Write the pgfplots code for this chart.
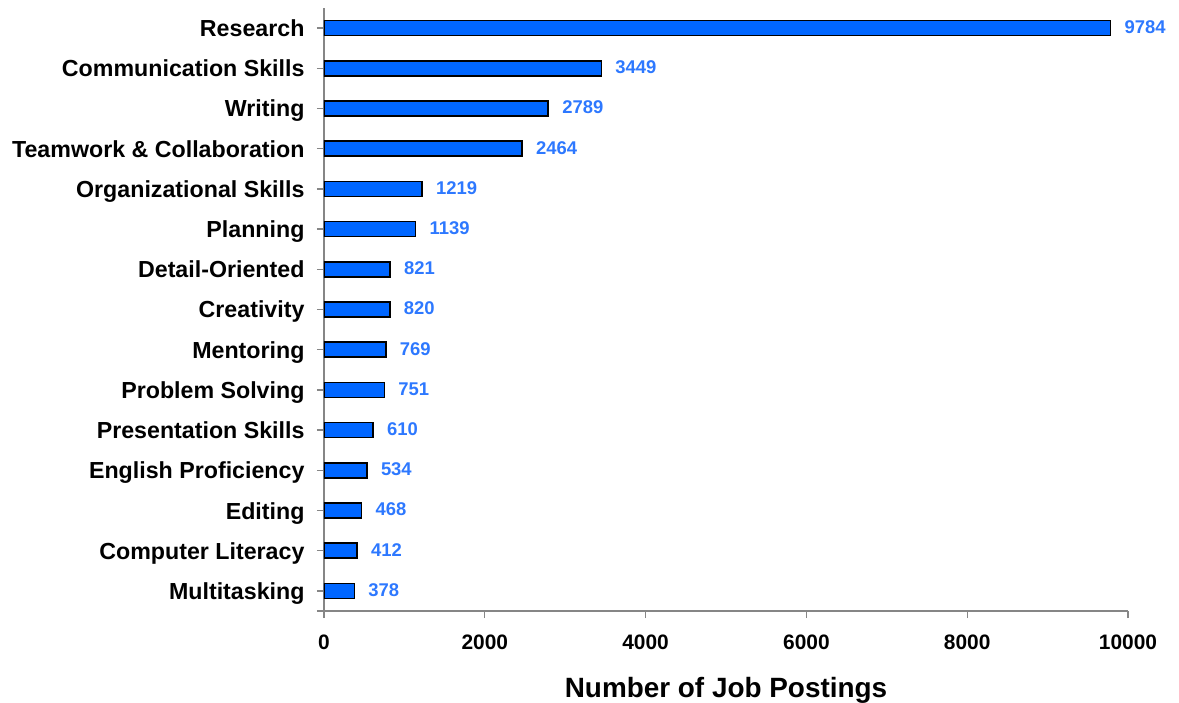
\documentclass[border=0pt]{standalone}
\usepackage{fontspec}
\setmainfont{Liberation Sans}
\usepackage{pgfplots}
\pgfplotsset{compat=1.18}
\definecolor{barblue}{RGB}{0,102,255}
\definecolor{lblblue}{RGB}{45,120,255}
\definecolor{axgray}{RGB}{134,134,134}
\begin{document}
\begin{tikzpicture}[x=1bp,y=1bp]
\begin{axis}[
  at={(0,0)}, anchor=south west,
  scale only axis, width=804bp, height=603bp,
  xmin=0, xmax=10000, ymin=-0.5, ymax=14.5,
  xbar, bar width=15bp,
  axis x line*=bottom, axis y line*=left,
  axis line style={axgray, line width=1.3bp},
  xtick={0,2000,4000,6000,8000,10000},
  ytick={0,...,14},
  yticklabels={Multitasking,Computer Literacy,Editing,English Proficiency,Presentation Skills,Problem Solving,Mentoring,Creativity,Detail-Oriented,Planning,Organizational Skills,Teamwork \& Collaboration,Writing,Communication Skills,Research},
  extra y ticks={-0.5}, extra y tick labels={},
  tick style={axgray, line width=1.3bp},
  xtick align=outside, ytick align=outside,
  major tick length=7bp,
  scaled x ticks=false,
  /pgf/number format/assume math mode=true,
  /pgf/number format/1000 sep={},
  xticklabel style={font=\bfseries\fontsize{21}{25}\selectfont, text=black, yshift=-13bp},
  yticklabel style={font=\bfseries\fontsize{23.3}{27}\selectfont, text=black, anchor=base east, xshift=-9bp, yshift=-8.5bp},
  xlabel={Number of Job Postings},
  xlabel style={font=\bfseries\fontsize{28}{32}\selectfont, yshift=-21bp},
  nodes near coords,
  nodes near coords style={anchor=west, xshift=10bp, yshift=1bp, font=\bfseries\fontsize{18.5}{22}\selectfont, text=lblblue},
]
\addplot[fill=barblue, draw=black, line width=1.5bp] coordinates {
(378,0) (412,1) (468,2) (534,3) (610,4) (751,5) (769,6) (820,7) (821,8) (1139,9) (1219,10) (2464,11) (2789,12) (3449,13) (9784,14)
};
\end{axis}
\pgfresetboundingbox
\path (-324bp,-92bp) rectangle (855bp,611bp);
\end{tikzpicture}
\end{document}
